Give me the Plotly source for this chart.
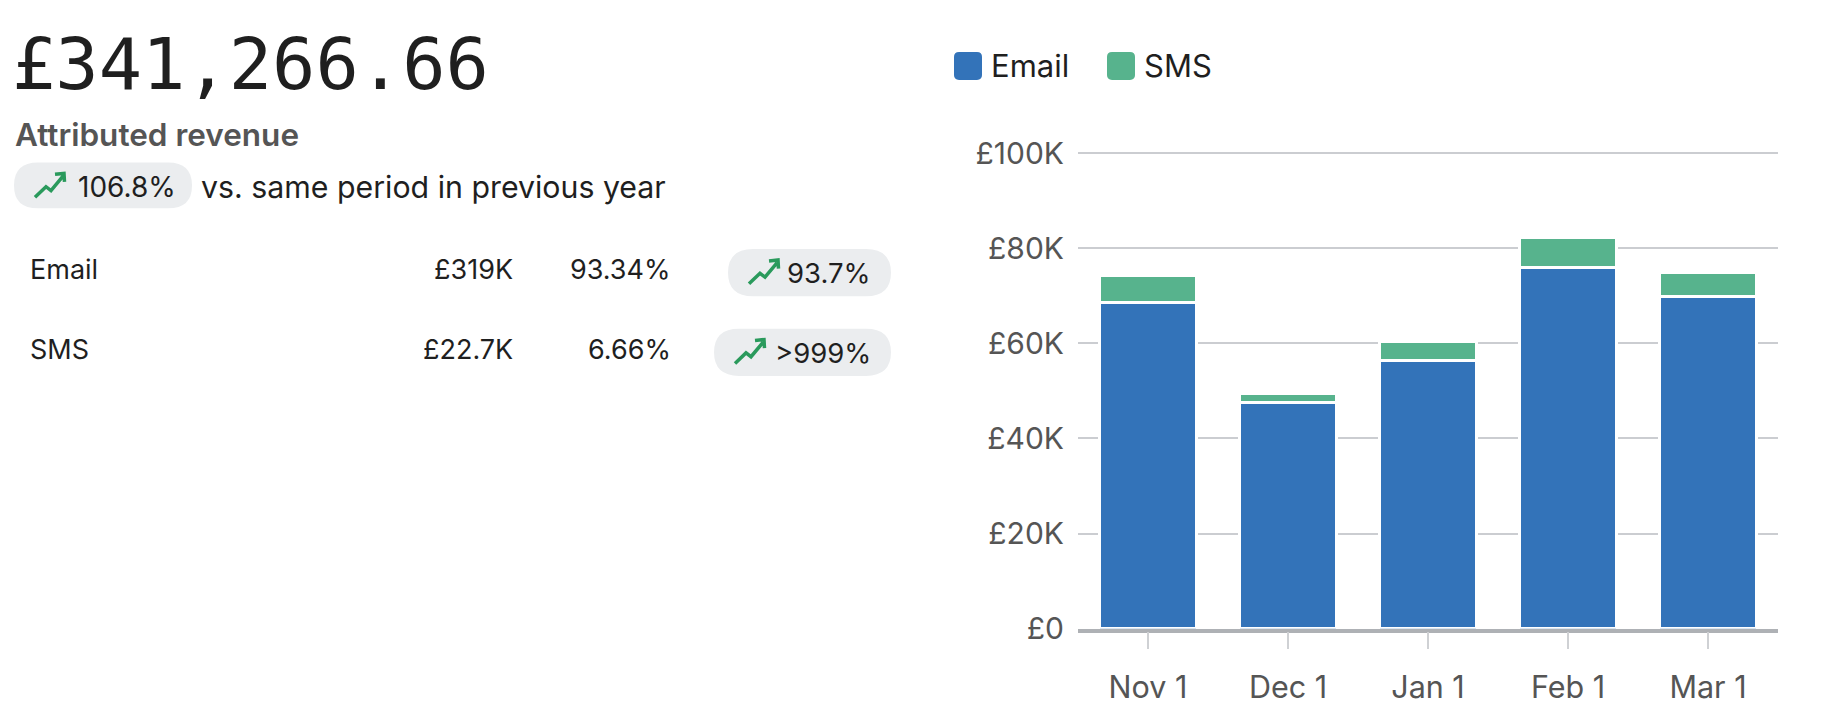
import plotly.graph_objects as go

# ---------------- data ----------------
months = ["Nov 1", "Dec 1", "Jan 1", "Feb 1", "Mar 1"]
email_revenue = [68600, 47500, 56400, 76000, 69900]
sms_revenue = [5650, 2000, 3900, 6300, 5000]
y_tick_values = [0, 20000, 40000, 60000, 80000, 100000]
y_tick_labels = ["£0", "£20K", "£40K", "£60K", "£80K", "£100K"]

total_label = "£341,266.66"
subtitle = "Attributed revenue"
total_change = "106.8%"
comparison_text = "vs. same period in previous year"
channels = ["Email", "SMS"]
channel_revenue = ["£319K", "£22.7K"]
channel_share = ["93.34%", "6.66%"]
channel_change = ["93.7%", ">999%"]

# ---------------- style ----------------
W, H = 1836, 728
BLUE = "#3373b9"
GREEN = "#57b38d"
PILL = "#ebedef"
ICON = "#2a9a5c"
SANS = "Inter, 'Noto Sans', sans-serif"
MONO = "'DejaVu Sans Mono', monospace"
Y_MAX = 100300


def V(t):
    # vertical calibration of target pixel rows to layout rows
    return (t - 16.8) / 0.958


Y_TOP = V(153.5)     # pixel row of £100K
Y_ZERO = V(631.5)    # pixel row of £0


def X(px):
    return px / W


def Y(py):
    return 1 - py / H


def rounded_rect(x0, y0, x1, y1, r):
    pts = [
        ("M", (x0 + r, y0)), ("L", (x1 - r, y0)), ("Q", (x1, y0), (x1, y0 + r)),
        ("L", (x1, y1 - r)), ("Q", (x1, y1), (x1 - r, y1)), ("L", (x0 + r, y1)),
        ("Q", (x0, y1), (x0, y1 - r)), ("L", (x0, y0 + r)), ("Q", (x0, y0), (x0 + r, y0)),
    ]
    s = ""
    for p in pts:
        coords = " ".join(f"{X(a):.5f},{Y(b):.5f}" for a, b in p[1:])
        s += f"{p[0]} {coords} "
    return s + "Z"


def icon_path(ox, oy):
    line = [(1, 26), (12, 15), (17, 19), (29, 4)]
    head = [(21, 2), (30, 1), (30.5, 10)]
    s = "M " + " L ".join(f"{X(ox + a):.5f},{Y(oy + b):.5f}" for a, b in line)
    s += " M " + " L ".join(f"{X(ox + a):.5f},{Y(oy + b):.5f}" for a, b in head)
    return s


fig = go.Figure()
fig.add_trace(go.Bar(x=months, y=email_revenue, name=channels[0],
                     marker=dict(color=BLUE, line=dict(color="white", width=3)),
                     showlegend=False))
fig.add_trace(go.Bar(x=months, y=sms_revenue, name=channels[1],
                     marker=dict(color=GREEN, line=dict(color="white", width=3)),
                     showlegend=False))

shapes = []
annotations = []


def text(t, x, y, size, color="#1f1f1f", anchor="left", family=SANS, weight=400):
    annotations.append(dict(text=t, x=X(x), y=Y(y), xref="paper", yref="paper",
                            xanchor=anchor, yanchor="middle", showarrow=False,
                            font=dict(family=family, size=size, color=color, weight=weight)))


# headline
text(total_label, 10, V(64), 72, family=MONO)
text(subtitle, 13, V(135), 31.5, color="#555555", weight=600)

# main pill
shapes.append(dict(type="path", path=rounded_rect(14, V(163), 192, V(209), 24),
                   xref="paper", yref="paper", fillcolor=PILL, line=dict(width=0), layer="below"))
shapes.append(dict(type="path", path=icon_path(34, V(173)), xref="paper", yref="paper",
                   line=dict(color=ICON, width=3.5)))
text(total_change, 76, V(187.5), 28)
text(comparison_text, 199, V(188), 30.3)

# table rows
row_y = [271, 351]
pill_boxes = [(728, 891), (714, 891)]
for i in range(len(channels)):
    yy = row_y[i]
    text(channels[i], 28, V(yy), 27)
    text(channel_revenue[i], 515, V(yy), 27, anchor="right")
    text(channel_share[i], 673, V(yy), 27, anchor="right")
    px0, px1 = pill_boxes[i]
    shapes.append(dict(type="path", path=rounded_rect(px0, V(yy - 21), px1, V(yy + 26.5), 25),
                       xref="paper", yref="paper", fillcolor=PILL, line=dict(width=0), layer="below"))
    shapes.append(dict(type="path", path=icon_path(px0 + 20, V(yy - 11)), xref="paper", yref="paper",
                       line=dict(color=ICON, width=3.5)))
    text(channel_change[i], 873, V(yy + 3), 27.5, anchor="right")

# legend
legend_items = [(954, channels[0], BLUE), (1107, channels[1], GREEN)]
for lx, name, col in legend_items:
    shapes.append(dict(type="path", path=rounded_rect(lx, V(52), lx + 28, V(80), 5),
                       xref="paper", yref="paper", fillcolor=col, line=dict(width=0)))
    text(name, lx + 35, V(66), 31)

y_dom_top = Y_ZERO - (Y_ZERO - Y_TOP) * Y_MAX / 100000

fig.update_layout(
    width=W, height=H,
    margin=dict(l=0, r=0, t=0, b=0),
    paper_bgcolor="white", plot_bgcolor="white",
    barmode="stack", bargap=0.31,
    showlegend=False,
    shapes=shapes, annotations=annotations,
    font=dict(family=SANS, color="#555555"),
    xaxis=dict(domain=[X(1078), X(1778)], showline=True, linecolor="#aeb1b5", linewidth=3.5,
               ticks="outside", ticklen=17, tickcolor="#cfd1d4", tickwidth=1.5,
               tickfont=dict(size=30.5, color="#555555"), ticklabelstandoff=12,
               showgrid=False, fixedrange=True),
    yaxis=dict(domain=[Y(Y_ZERO), Y(y_dom_top)], range=[0, Y_MAX],
               tickvals=y_tick_values, ticktext=y_tick_labels,
               tickfont=dict(size=30, color="#555555"), ticklabelstandoff=13,
               showgrid=True, gridcolor="#cbcdd1", gridwidth=2, zeroline=False,
               showline=False, ticks="", fixedrange=True),
)

css = ("var h=document.documentElement,b=document.body;"
       "h.style.margin='0';h.style.padding='0';h.style.overflow='hidden';"
       "b.style.margin='0';b.style.padding='0';b.style.overflow='hidden';")

fig.write_html("out.html", config={"displayModeBar": False}, post_script=css)
